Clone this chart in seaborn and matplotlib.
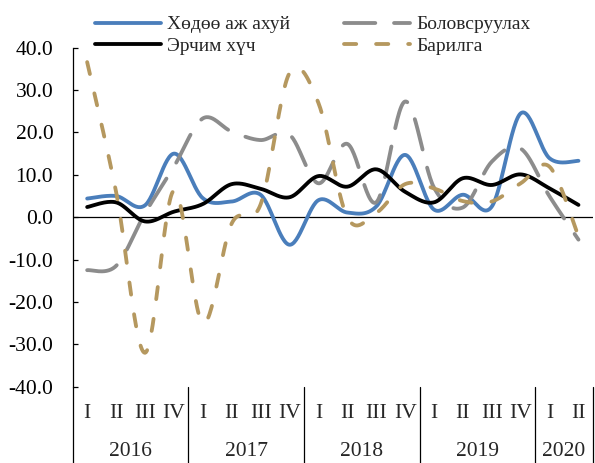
import numpy as np
import seaborn as sns
import matplotlib.pyplot as plt
from matplotlib.transforms import blended_transform_factory

# quarters from 2016 I to 2020 II
years = ['2016', '2017', '2018', '2019', '2020']
quarters_per_year = [4, 4, 4, 4, 2]
quarter_names = ['I', 'II', 'III', 'IV']

# growth by sector, %
agri = [4.4, 5.0, 2.8, 15.0, 4.5, 3.7, 5.3, -6.5, 4.0, 1.1, 2.5, 14.7,
        1.8, 5.3, 2.5, 24.5, 13.9, 13.3]
manuf = [-12.5, -11.5, 0.9, 11.9, 23.3, 20.2, 18.2, 19.5, 8.0, 17.3, 3.5, 27.3,
         7.0, 2.3, 13.1, 16.2, 4.9, -5.3]
energy = [2.4, 3.5, -1.0, 1.3, 3.1, 7.8, 6.7, 4.7, 9.7, 7.2, 11.3, 6.0,
          3.5, 9.2, 7.6, 10.1, 6.8, 2.9]
constr = [36.6, 6.0, -32.0, 6.3, -25.0, -1.5, 3.0, 34.0, 27.0, 0.0, 1.0, 7.8,
          6.8, 3.8, 3.7, 8.0, 11.9, -4.5]

labels = ['Хөдөө аж ахуй', 'Боловсруулах', 'Эрчим хүч', 'Барилга']
colors = ['#4A7EBB', '#8C8C8C', '#000000', '#B5985F']
FS = 15.5
LEG_FS = 14
LW = 2.75


def smooth(vals, n=30):
    # excel-like smoothed line: bezier through the points, 1/6 tangents
    y = np.asarray(vals, float)
    x = np.arange(len(y), dtype=float)
    px = np.concatenate([[x[0]], x, [x[-1]]])
    py = np.concatenate([[y[0]], y, [y[-1]]])
    t = np.linspace(0, 1, n, endpoint=False)
    xs, ys = [], []
    for i in range(len(y) - 1):
        for p, out in ((px, xs), (py, ys)):
            b0 = p[i + 1]
            b1 = p[i + 1] + (p[i + 2] - p[i]) / 6
            b2 = p[i + 2] - (p[i + 3] - p[i + 1]) / 6
            b3 = p[i + 2]
            out.append((1 - t) ** 3 * b0 + 3 * (1 - t) ** 2 * t * b1
                       + 3 * (1 - t) * t ** 2 * b2 + t ** 3 * b3)
    xs.append([x[-1]])
    ys.append([y[-1]])
    return np.concatenate(xs), np.concatenate(ys)


sns.set_style('white')
plt.rcParams['font.family'] = ['Liberation Serif', 'DejaVu Serif']
plt.rcParams['axes.unicode_minus'] = False

fig = plt.figure(figsize=(5.95, 4.63), dpi=100)
ax = fig.add_axes([0.1222, 0.1648, 0.8743, 0.7322])

styles = ['-', (0, (8.2, 4.9)), '-', (0, (3.2, 5.2))]
lines = {}
for vals, lab, col, ls in zip([agri, manuf, energy, constr], labels, colors, styles):
    sx, sy = smooth(vals)
    sns.lineplot(x=sx, y=sy, ax=ax, color=col, lw=LW, linestyle=ls,
                 estimator=None, sort=False, label=lab,
                 solid_capstyle='round', dash_capstyle='round')
    lines[lab] = ax.get_lines()[-1]

ax.axhline(0, color='black', lw=0.9, zorder=1)

ax.set_xlim(-0.5, len(agri) - 0.5)
ax.set_ylim(-40, 40)
yt = np.arange(-40, 41, 10)
ax.set_yticks(yt)
ax.set_yticklabels([f'{v:.1f}' for v in yt])
ax.set_xticks([])
ax.tick_params(axis='y', direction='in', length=3.8, width=0.9, pad=14,
               labelsize=FS, colors='black', left=True)
for s in ['top', 'right', 'bottom']:
    ax.spines[s].set_visible(False)
ax.spines['left'].set_color('black')
ax.spines['left'].set_linewidth(0.9)

# two level category axis at the bottom
trans = blended_transform_factory(ax.transData, ax.transAxes)
start = 0
bounds = [-0.5]
for yr, nq in zip(years, quarters_per_year):
    for q in range(nq):
        ax.text(start + q, -0.0776, quarter_names[q], transform=trans,
                ha='center', va='center', fontsize=FS)
    ax.text(start + (nq - 1) / 2, -0.1926, yr, transform=trans,
            ha='center', va='center', fontsize=FS)
    start += nq
    bounds.append(start - 0.5)
for b in bounds:
    ax.plot([b, b], [0, -0.225], transform=trans, color='black', lw=0.9,
            clip_on=False)

ax.legend_.remove()
order = ['Хөдөө аж ахуй', 'Эрчим хүч', 'Боловсруулах', 'Барилга']
fig.legend([lines[k] for k in order], order, loc='upper left',
           bbox_to_anchor=(0.1597, 0.966), ncol=2, frameon=False,
           fontsize=LEG_FS, handlelength=3.4, handletextpad=0.31,
           columnspacing=2.78, labelspacing=0.2, borderpad=0,
           borderaxespad=0)

fig.savefig('out.png', dpi=100)
